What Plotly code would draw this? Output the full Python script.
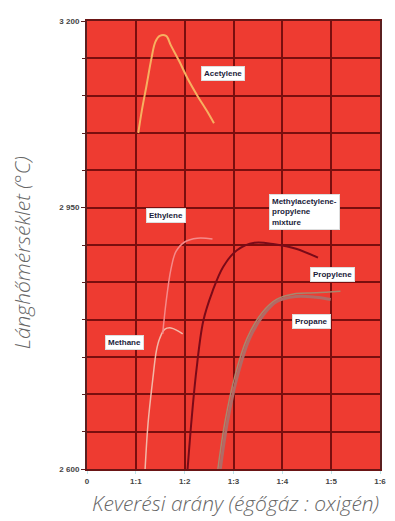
import plotly.graph_objects as go

# ---- data (x = fuel : oxygen ratio units, y = flame temperature °C) ----
acetylene_x = [1.05, 1.12, 1.22, 1.32, 1.40, 1.49, 1.62, 1.72, 1.89, 2.06, 2.26, 2.46, 2.60]
acetylene_y = [3050, 3079, 3114, 3150, 3172, 3180, 3180, 3167, 3146, 3123, 3100, 3079, 3063]

ethylene_x = [1.55, 1.62, 1.72, 1.82, 2.00, 2.26, 2.57]
ethylene_y = [2781, 2824, 2868, 2891, 2904, 2909, 2908]

methane_x = [1.19, 1.25, 1.35, 1.42, 1.49, 1.59, 1.72, 1.86, 1.96]
methane_y = [2600, 2661, 2722, 2758, 2775, 2787, 2789, 2785, 2781]

mapp_x = [2.06, 2.14, 2.24, 2.38, 2.57, 2.79, 3.07, 3.43, 3.84, 4.28, 4.73]
mapp_y = [2600, 2665, 2732, 2798, 2838, 2871, 2893, 2903, 2901, 2895, 2883]

propylene_x = [2.68, 2.83, 3.03, 3.27, 3.58, 3.88, 4.28, 4.69, 5.19]
propylene_y = [2600, 2665, 2725, 2774, 2809, 2827, 2835, 2836, 2838]

propane_x = [2.73, 2.87, 3.07, 3.33, 3.62, 3.88, 4.28, 4.69, 4.99]
propane_y = [2600, 2661, 2722, 2775, 2807, 2824, 2831, 2830, 2827]

x_tick_vals = [0, 1, 2, 3, 4, 5, 6]
x_tick_text = ["0", "1:1", "1:2", "1:3", "1:4", "1:5", "1:6"]
y_tick_vals = [2600, 2950, 3200]
y_tick_text = ["2 600", "2 950", "3 200"]

labels = [
    # text, x, y, xanchor, yanchor
    ("Acetylene", 2.79, 3130, "center", "middle"),
    ("Ethylene", 1.62, 2939, "center", "middle"),
    ("Methylacetylene-<br>propylene<br>mixture", 3.72, 2968, "left", "top"),
    ("Propylene", 5.03, 2860, "center", "middle"),
    ("Propane", 4.59, 2797, "center", "middle"),
    ("Methane", 0.77, 2770, "center", "middle"),
]

fig = go.Figure()
curves = [
    (propylene_x, propylene_y, "#a8876e", 1.5),
    (propane_x, propane_y, "#b06b66", 3),
    (methane_x, methane_y, "#f2b8a8", 1.5),
    (ethylene_x, ethylene_y, "#f58a8a", 1.5),
    (mapp_x, mapp_y, "#7a0a18", 2),
    (acetylene_x, acetylene_y, "#f7b060", 2),
]
for xs, ys, col, w in curves:
    fig.add_trace(go.Scatter(x=xs, y=ys, mode="lines", line=dict(color=col, width=w, shape="spline"),
                             showlegend=False, hoverinfo="skip"))

for txt, x, y, xa, ya in labels:
    fig.add_annotation(x=x, y=y, text=txt, showarrow=False, xanchor=xa, yanchor=ya, align="left",
                       font=dict(family="Liberation Sans", size=8, color="#1c1c3a", weight="bold"),
                       bgcolor="white", bordercolor="#dddddd", borderwidth=1, borderpad=2)

title_font = dict(family="Open Sans", size=21, color="#666666", style="italic", weight=300)
fig.add_annotation(text="Keverési arány (égőgáz : oxigén)", xref="paper", yref="paper",
                   x=0.507, y=-0.077, xanchor="center", yanchor="middle", showarrow=False, font=title_font)
fig.add_annotation(text="Lánghőmérséklet (°C)", xref="paper", yref="paper", textangle=-90,
                   x=-0.221, y=0.482, xanchor="center", yanchor="middle", showarrow=False, font=title_font)

grid_col = "#7a0e0e"
fig.update_xaxes(range=[0, 6], tickvals=x_tick_vals, ticktext=x_tick_text, showgrid=True,
                 gridcolor=grid_col, gridwidth=1.5, zeroline=False, showline=True, linecolor="#6a1515",
                 linewidth=2, mirror=True, ticks="outside", ticklen=3, tickcolor="#bde6ea",
                 tickfont=dict(family="Liberation Sans", size=8, color="#444444", weight="bold"))
fig.update_yaxes(range=[2600, 3200], tickvals=y_tick_vals, ticktext=y_tick_text, showgrid=True,
                 gridcolor=grid_col, gridwidth=1.5, zeroline=False, showline=True, linecolor="#5a2020",
                 linewidth=2, mirror=True, ticks="outside", ticklen=4, tickcolor="#5a2020",
                 minor=dict(dtick=50, showgrid=True, gridcolor=grid_col, gridwidth=1.5,
                            ticks="outside", ticklen=3, tickcolor="#5a2020"),
                 tickfont=dict(family="Liberation Sans", size=8, color="#444444", weight="bold"))

fig.update_layout(width=387, height=513, margin=dict(l=79, r=10, t=9, b=52),
                  plot_bgcolor="#ee3b31", paper_bgcolor="white")

fig.write_html("out.html")
